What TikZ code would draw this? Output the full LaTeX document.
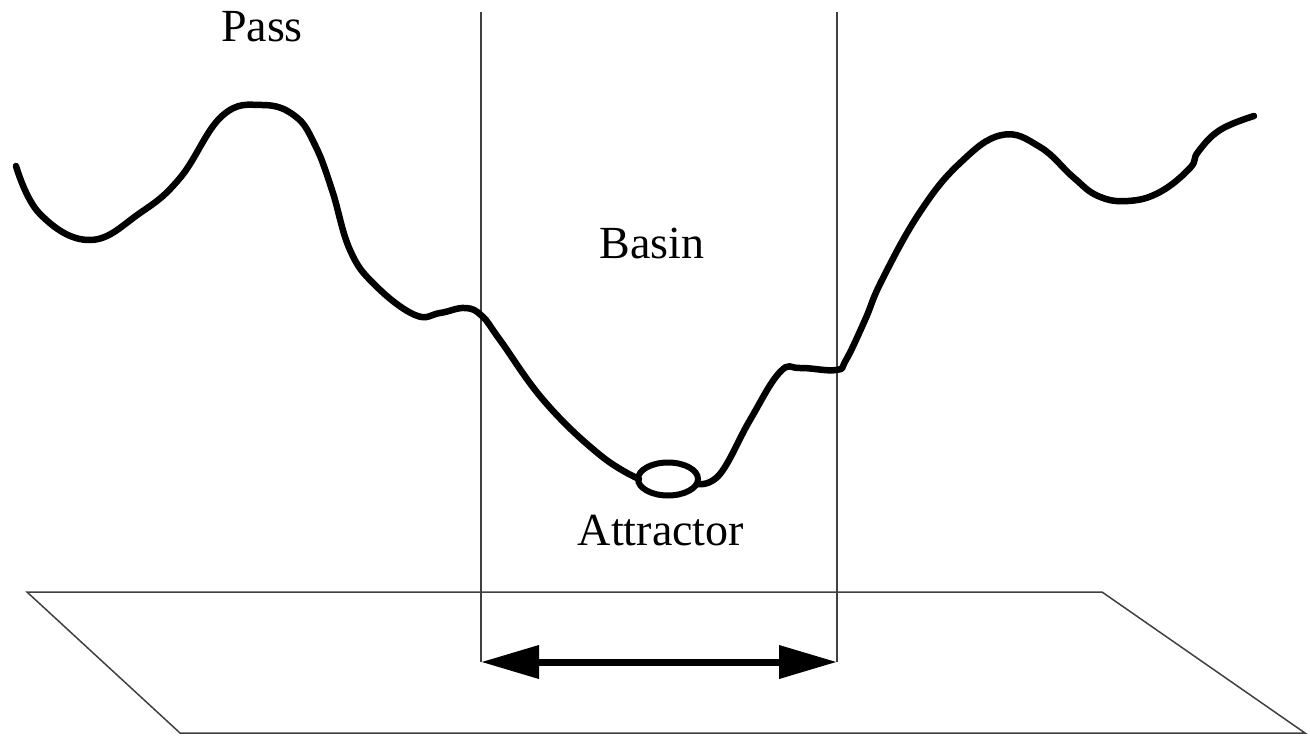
\documentclass[tikz,border=0pt]{standalone}
\usepackage{fontspec}
\setmainfont{Liberation Serif}
\usetikzlibrary{arrows.meta,shapes.geometric}
\begin{document}
\begin{tikzpicture}[x=1pt,y=-1pt,
  landscape/.style={line width=6.5pt,line cap=round,line join=round},
  thinline/.style={line width=1.5pt,draw=black!75},
  label/.style={font=\fontsize{46}{50}\selectfont,inner sep=0pt}]
\useasboundingbox (0,0) rectangle (1310,736);
% plane
\coordinate (pA) at (27,592);
\coordinate (pB) at (1102,592);
\coordinate (pC) at (1305,733);
\coordinate (pD) at (180,733);
\draw[thinline] (pA) -- (pB) -- (pC) -- (pD) -- cycle;
% basin boundaries
\coordinate (lt) at (481,12);
\coordinate (lb) at (481,662);
\coordinate (rt) at (837,12);
\coordinate (rb) at (837,662);
\draw[thinline] (lt) -- (lb);
\draw[thinline] (rt) -- (rb);
% arrow
\draw[line width=7pt,{Triangle[length=58pt,width=32pt]}-{Triangle[length=58pt,width=32pt]}] (lb) -- (rb);
% landscape curve
\draw[landscape] plot[smooth,tension=0.7] coordinates {
 (16,166) (40,214) (90,240) (140,213) (180,178) (222,116) (262,105)
 (295,116) (315,145) (332,190) (350,250) (375,285) (415,315) (440,313) (465,308)
 (482,316) (500,340) (545,402) (600,455) (639,479)};
\node[draw,line width=6pt,ellipse,minimum width=60pt,minimum height=33pt,inner sep=0pt] (att) at (668,479) {};
\draw[landscape] plot[smooth,tension=0.7] coordinates {
 (698,484) (720,474) (750,420) (780,372) (800,368) (836,370)
 (846,360) (865,320) (882,280) (920,212) (960,163) (1002,135)
 (1040,147) (1073,177) (1098,196) (1128,201) (1160,192) (1190,168)
 (1198,152) (1220,130) (1254,116)};
% labels
\node[label] (pass) at (262,27) {Pass};
\node[label] (basin) at (652,243) {Basin};
\node[label] (attr) at (661,531) {Attractor};
\end{tikzpicture}
\end{document}
